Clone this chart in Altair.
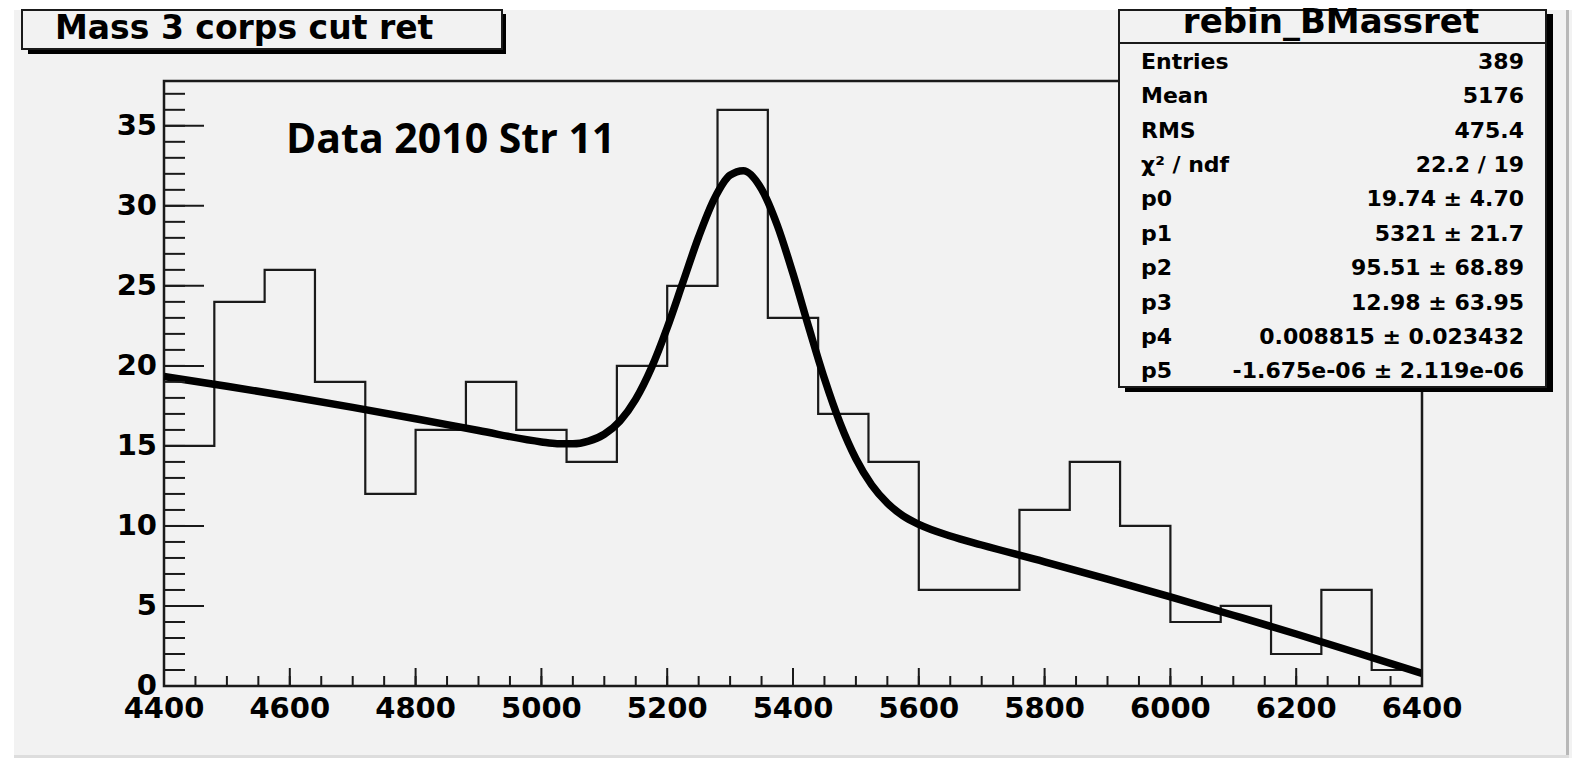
import altair as alt
import pandas as pd

# ---- data ----
bin_lo = [4400, 4480, 4560, 4640, 4720, 4800, 4880, 4960, 5040, 5120, 5200, 5280, 5360,
          5440, 5520, 5600, 5680, 5760, 5840, 5920, 6000, 6080, 6160, 6240, 6320]
bin_hi_end = 6400
counts = [15, 24, 26, 19, 12, 16, 19, 16, 14, 20, 25, 36, 23,
          17, 14, 6, 6, 11, 14, 10, 4, 5, 2, 6, 1]

fit_x = [4400, 4500, 4600, 4700, 4800, 4900, 5000, 5025, 5050, 5075, 5100, 5125, 5150, 5175,
         5200, 5225, 5250, 5275, 5300, 5321, 5350, 5375, 5400, 5425, 5450, 5475, 5500, 5525,
         5550, 5575, 5600, 5650, 5700, 5800, 5900, 6000, 6100, 6200, 6300, 6400]
fit_y = [19.34, 18.73, 18.09, 17.41, 16.70, 15.96, 15.25, 15.14, 15.13, 15.30, 15.73, 16.56, 17.92, 19.88,
         22.38, 25.22, 28.06, 30.45, 31.92, 32.20, 31.05, 28.79, 25.76, 22.42, 19.20, 16.41, 14.20, 12.57,
         11.43, 10.63, 10.10, 9.37, 8.81, 7.76, 6.68, 5.57, 4.42, 3.25, 2.03, 0.79]

x_labels = [4400, 4600, 4800, 5000, 5200, 5400, 5600, 5800, 6000, 6200, 6400]
x_minor = list(range(4400, 6401, 50))
y_labels = [0, 5, 10, 15, 20, 25, 30, 35]
y_minor = list(range(0, 38))

title_text = "Mass 3 corps cut ret"
annot_text = "Data 2010 Str 11"
stats_title = "rebin_BMassret"
stats_names = ["Entries", "Mean", "RMS", "χ² / ndf", "p0", "p1", "p2", "p3", "p4", "p5"]
stats_values = ["389", "5176", "475.4", "22.2 / 19", "19.74 ± 4.70", "5321 ± 21.7",
                "95.51 ± 68.89", "12.98 ± 63.95", "0.008815 ± 0.023432", "-1.675e-06 ± 2.119e-06"]

# ---- chart ----
W, H = 1258, 605
FONT = "DejaVu Sans"
INK = "#1a1a1a"
BG = "#f2f2f2"

xs = alt.Scale(domain=[4400, 6400], nice=False, zero=False)
ys = alt.Scale(domain=[0, 37.8], nice=False, zero=False)

hist_df = pd.DataFrame({"x": bin_lo + [bin_hi_end], "y": counts + [counts[-1]]})
fit_df = pd.DataFrame({"x": fit_x, "y": fit_y})

one = alt.Data(values=[{"a": 1}])


def box(x1, x2, y1, y2, **kw):
    return alt.Chart(one).mark_rect(**kw).encode(
        x=alt.value(x1), x2=alt.value(x2), y=alt.value(y1), y2=alt.value(y2))


def txt(s, x, y, **kw):
    return alt.Chart(one).mark_text(text=s, **kw).encode(x=alt.value(x), y=alt.value(y))


hist = alt.Chart(hist_df).mark_line(interpolate="step-after", color=INK, strokeWidth=2.2).encode(
    x=alt.X("x:Q", scale=xs, axis=None),
    y=alt.Y("y:Q", scale=ys, axis=None),
)

fit = alt.Chart(fit_df).mark_line(interpolate="monotone", color="#000", strokeWidth=7.5).encode(
    x=alt.X("x:Q", scale=xs, axis=None),
    y=alt.Y("y:Q", scale=ys, axis=None),
)

ymin_df = pd.DataFrame({"v": y_minor})
ymaj_df = pd.DataFrame({"v": y_labels})
xmin_df = pd.DataFrame({"v": x_minor})
xmaj_df = pd.DataFrame({"v": x_labels})

ytick_minor = alt.Chart(ymin_df).mark_rule(color=INK, strokeWidth=2).encode(
    y=alt.Y("v:Q", scale=ys, axis=None), x=alt.value(0), x2=alt.value(21))
ytick_major = alt.Chart(ymaj_df).mark_rule(color=INK, strokeWidth=2).encode(
    y=alt.Y("v:Q", scale=ys, axis=None), x=alt.value(0), x2=alt.value(40))
xtick_minor = alt.Chart(xmin_df).mark_rule(color=INK, strokeWidth=2).encode(
    x=alt.X("v:Q", scale=xs, axis=None), y=alt.value(H), y2=alt.value(H - 10))
xtick_major = alt.Chart(xmaj_df).mark_rule(color=INK, strokeWidth=2).encode(
    x=alt.X("v:Q", scale=xs, axis=None), y=alt.value(H), y2=alt.value(H - 18))

# tick labels drawn as text from the label arrays
xlab = alt.Chart(xmaj_df).mark_text(font=FONT, fontSize=29, fontWeight="bold", color="#000",
                                    align="center", baseline="alphabetic").encode(
    x=alt.X("v:Q", scale=xs, axis=None), y=alt.value(H + 32), text=alt.Text("v:Q", format="d"))
ylab = alt.Chart(ymaj_df).mark_text(font=FONT, fontSize=29, fontWeight="bold", color="#000",
                                    align="right", baseline="middle").encode(
    y=alt.Y("v:Q", scale=ys, axis=None), x=alt.value(-7), text=alt.Text("v:Q", format="d"))

# canvas decorations (coordinates relative to the plot origin)
white_left = box(-164, -150, -81, 677, color="#ffffff")
white_top = box(-164, 1408, -81, -71, color="#ffffff")
right_line = box(1402, 1405, -71, 677, color="#b8b8b8")
bottom_line = box(-150, 1405, 674, 677, color="#dddddd")

# title box
title_shadow = box(-136, 342, -67, -27, color="#000000")
title_box = box(-142, 338, -71, -32, fill=BG, stroke=INK, strokeWidth=2)
title_lbl = txt(title_text, -109, -42, font=FONT, fontSize=33, fontWeight="bold",
                align="left", baseline="alphabetic", color="#000")

annot = txt(annot_text, 122, 72, font="Open Sans", fontSize=41, fontWeight="bold",
            align="left", baseline="alphabetic", color="#000")

# stats box
stats_shadow = box(961, 1389, -67, 311, color="#000000")
stats_box = box(955, 1382, -71, 306, fill=BG, stroke=INK, strokeWidth=2)
stats_sep = box(955, 1382, -39, -37, color=INK)
stats_ttl = txt(stats_title, 1167, -48, font=FONT, fontSize=34, fontWeight="bold",
                align="center", baseline="alphabetic", color="#000")

stats_layers = []
for i, (n, v) in enumerate(zip(stats_names, stats_values)):
    yy = -19.3 + i * 34.4
    stats_layers.append(txt(n, 977, yy, font=FONT, fontSize=22, fontWeight="bold",
                            align="left", baseline="middle", color="#000"))
    stats_layers.append(txt(v, 1360, yy, font=FONT, fontSize=22, fontWeight="bold",
                            align="right", baseline="middle", color="#000"))

chart = alt.layer(
    white_left, white_top, right_line, bottom_line,
    hist, fit,
    ytick_minor, ytick_major, xtick_minor, xtick_major,
    xlab, ylab,
    title_shadow, title_box, title_lbl,
    annot,
    stats_shadow, stats_box, stats_sep, stats_ttl,
    *stats_layers,
).properties(
    width=W, height=H,
    padding={"left": 164, "top": 81, "right": 150, "bottom": 72},
    autosize=alt.AutoSizeParams(type="none"),
    background=BG,
).configure_view(stroke=INK, strokeWidth=2.5)

chart.save("out.html", embed_options={"renderer": "svg", "actions": False})
